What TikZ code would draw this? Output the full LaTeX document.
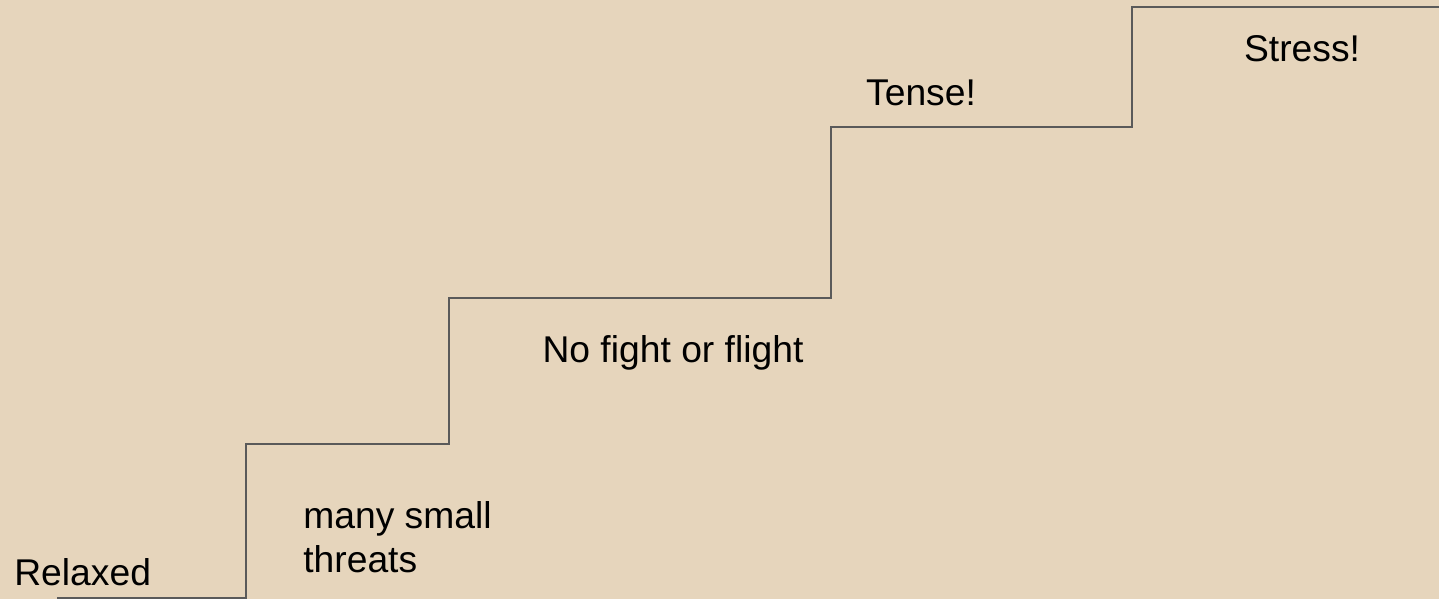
\documentclass[tikz,border=0pt]{standalone}
\usepackage{fontspec}
\setmainfont{Liberation Sans}
\usepackage{xcolor}
\usepackage{tikz}
\usetikzlibrary{positioning}

\definecolor{paper}{HTML}{E6D5BC}
\definecolor{stepline}{HTML}{5A5A5A}

\begin{document}
\begin{tikzpicture}[
            x=0.02cm, y=0.02cm,
            stair/.style ={draw=stepline, line width=1.1pt},
            mood/.style  ={font=\fontsize{21.2}{25}\selectfont, text=black, inner sep=0pt}
        ]
            % --- Fondo ---
            \fill[paper] (0,0) rectangle (1439,599);
            \useasboundingbox (0,0) rectangle (1439,599);

            % --- Escalones ---
            \coordinate (s0) at (57,1);
            \coordinate (s1) at (246,155);
            \coordinate (s2) at (449,301);
            \coordinate (s3) at (831,472);
            \coordinate (s4) at (1132,592);
            \coordinate (s5) at (1439,592);
            \draw[stair] (s0) -| (s1) -| (s2) -| (s3) -| (s4) -- (s5);

            % --- Etiquetas ---
            \node[mood, anchor=west]             (relaxed) at (14,27)    {Relaxed};
            \node[mood, anchor=west, align=left] (threats) at (303,62)   {many small\\threats};
            \node[mood]                          (nofight) at (673,246)  {No fight or flight};
            \node[mood]                          (tense)   at (921,506)  {Tense!};
            \node[mood]                          (stress)  at (1302,550) {Stress!};

        \end{tikzpicture}
\end{document}
